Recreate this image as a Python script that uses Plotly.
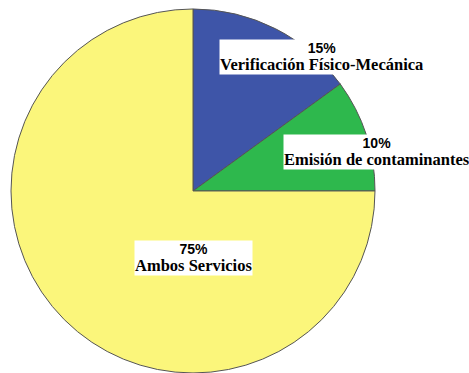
import plotly.graph_objects as go

# Share of respondents by service type
categories = ["Verificación Físico-Mecánica", "Emisión de contaminantes", "Ambos Servicios"]
percentages = [15, 10, 75]
colors = ["#3E55A8", "#2EB84D", "#FBF67B"]

W, H = 469, 373

fig = go.Figure(
    go.Pie(
        labels=categories,
        values=percentages,
        sort=False,
        direction="clockwise",
        rotation=0,
        marker=dict(colors=colors, line=dict(color="#555555", width=1)),
        textinfo="none",
        hoverinfo="label+percent",
        showlegend=False,
        domain=dict(x=[11 / W, 375 / W], y=[0.0, 0.976]),
    )
)

# Label box centres (pixels)
label_pos = [(321, 57), (377, 152), (193, 258)]

for cat, pct, (px, py) in zip(categories, percentages, label_pos):
    txt = (
        f"<span style='font-family:Liberation Sans, Arial; font-size:14px; font-weight:bold'>{pct}%</span>"
        f"<br><span style='font-family:Liberation Serif, Times New Roman; font-size:16.5px; font-weight:bold'>{cat}</span>"
    )
    fig.add_annotation(
        x=px / W, y=1 - py / H, xref="paper", yref="paper",
        xanchor="center", yanchor="middle",
        text=txt, showarrow=False,
        font=dict(size=13, color="black", family="Liberation Serif"),
        bgcolor="white", borderpad=0,
    )

fig.update_layout(
    width=W, height=H,
    margin=dict(l=0, r=0, t=0, b=0),
    paper_bgcolor="white", plot_bgcolor="white",
)

fig.write_html("out.html")
